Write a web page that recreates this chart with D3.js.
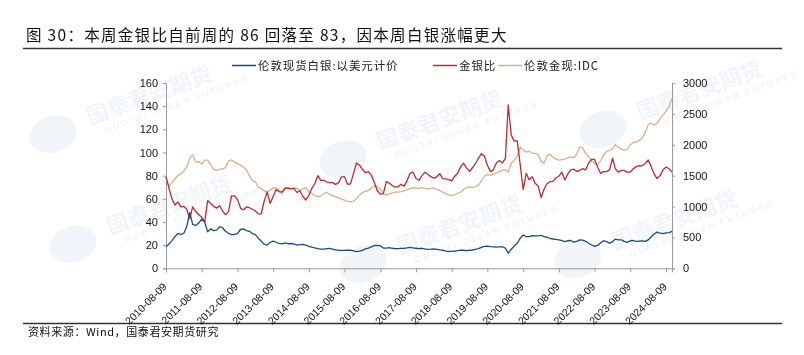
<!DOCTYPE html>
<html><head><meta charset="utf-8">
<script src="https://cdn.jsdelivr.net/npm/d3@7"></script>
<style>
html,body{margin:0;padding:0;background:#fff;}
svg{display:block;}
</style></head>
<body>
<svg id="chart" width="804" height="355"></svg>
<script>
// ---- data (monthly, starting 2010-08-09) ----
const startDate = "2010-08-09";
const silver = [
18.7,21,23.9,27.3,30,29.2,30.5,36,48,38,37,39,42.5,40,31.5,34,32.5,33,36,35,32,30.2,29,29.2,30,33.5,34,32.5,32,30,29,26,23.5,20.8,20,22.5,23.5,22.5,21.5,21,22,21.2,
21.4,21,20,20.4,20.7,20,19,18.2,17.6,17,16.6,16.6,17,17.2,16.6,16,15.6,15.4,15.5,15.6,15.7,15,14.4,14.8,15.5,16.8,17.5,18.5,19.8,19.7,19.5,17.5,17.5,17.8,17.3,16.9,17,17.2,17.3,17.6,18,17.6,17.3,17,
17.3,16.8,16.4,16.5,16.7,16.3,15.9,15.6,14.8,14.6,14.6,14.9,15.2,15.7,15.6,15.3,15.6,15.8,16.4,17,18,19,19.2,18.8,18.5,18.2,18.5,18.6,17.4,13,16.5,19,21.6,25.9,28.8,27.3,27.3,28.2,28,28,28.5,27.3,
26.8,25.9,25.3,25,24.6,23.8,23,23.8,24,22.6,23.3,24.5,24.4,23.3,21.6,20.1,18.9,19.7,21.8,23.8,23,21.8,23,25.2,24.5,24.5,23.2,22.4,23.8,24,23.2,23.4,23.6,23.2,24.5,27,29.6,31.2,30.4,30,30.5,30.8,31.8
];
const ratio = [
79,69,60,54.7,57.3,53,53.5,51,43,53,49,46.5,44,40,58.5,56,53.5,52,54,49.5,46.3,48.9,62.5,62.5,59.5,52,50.4,53,52.3,51,49.5,47,47,58,66,56,62,68,66,66,69.5,69,
68.5,69,65.5,67,62,59,63,69,73,80,76,76,74.5,74,74,72.5,74,79,79,72.5,73,82,91,89,85.5,82.5,83.5,80.5,74,67,64,64.5,74.8,73.6,71.5,70,70.5,72.5,71,75.5,82,83,77.5,76,
80,83,81,79,77.8,79,81.7,77.5,77.2,76.5,75.5,79.5,82,87.8,90.7,86.5,83.8,86.8,90.3,95,99,97,89,83.5,85,91,93,91,95,141,115,110,110,90,68,82,76.5,79,73.4,71,61,68,
73,74.8,75,78,79.5,83,76.3,81.5,85,85.6,83.5,84.5,86,85,90.7,94,94,87.5,82,83.5,83.5,85,95,86,83,84.5,84.5,83,83,86,87.8,88.7,88.5,90.5,93.5,88,81.5,77.5,80,85,87.5,86,83
];
const gold = [
1473,1320,1390,1446,1500,1525,1580,1640,1780,1840,1720,1728,1687,1750,1750,1680,1600,1585,1607,1607,1630,1740,1755,1720,1695,1670,1640,1590,1500,1420,1400,1312,1290,1250,1240,1260,1310,1295,1265,1210,1280,1310,
1290,1300,1300,1260,1290,1300,1240,1210,1180,1160,1170,1210,1232,1195,1175,1155,1140,1120,1105,1085,1075,1085,1130,1185,1225,1245,1260,1300,1335,1325,1280,1210,1185,1200,1220,1232,1232,1240,1255,1270,1290,1305,1300,1290,
1305,1295,1285,1295,1300,1280,1260,1235,1210,1190,1180,1190,1215,1235,1275,1310,1315,1310,1320,1345,1410,1490,1520,1505,1520,1545,1565,1585,1600,1560,1700,1745,1820,1960,1920,1880,1895,1860,1860,1840,1735,1700,
1820,1850,1800,1770,1750,1760,1768,1790,1800,1790,1850,1960,1950,1860,1810,1741,1700,1680,1740,1830,1890,1910,1935,2000,1960,1930,1910,1925,2000,2036,2045,2070,2110,2200,2330,2350,2320,2350,2420,2480,2540,2620,2750
];
const seriesNames = ["伦敦现货白银:以美元计价", "金银比", "伦敦金现:IDC"];
const seriesColors = ["#1a4b85", "#c0282d", "#d8b08a"];
const xTickLabels = ["2010-08-09","2011-08-09","2012-08-09","2013-08-09","2014-08-09","2015-08-09","2016-08-09","2017-08-09","2018-08-09","2019-08-09","2020-08-09","2021-08-09","2022-08-09","2023-08-09","2024-08-09"];
const leftTicks = [0,20,40,60,80,100,120,140,160];
const rightTicks = [0,500,1000,1500,2000,2500,3000];
const titleText = "图 30：本周金银比自前周的 86 回落至 83，因本周白银涨幅更大";
const sourceText = "资料来源：Wind，国泰君安期货研究";

// ---- layout ----
const svg = d3.select("#chart");
const L = 166, R = 672, T = 83, B = 268.3;
const parse = d3.timeParse("%Y-%m-%d");
const d0 = parse(startDate);
const dates = silver.map((_, i) => d3.timeMonth.offset(d0, i));

const x = d3.scaleTime().domain([d0, dates[dates.length - 1]]).range([L, R]);
const yL = d3.scaleLinear().domain([0, 160]).range([B, T]);
const yR = d3.scaleLinear().domain([0, 3000]).range([B, T]);

// ---- faint watermarks ----
const wm = svg.append("g").attr("opacity", 0.45);
const wmPos = [[90,125],[380,150],[640,120],[110,235],[400,255],[615,250]];
wmPos.forEach(([cx, cy]) => {
  const g = wm.append("g").attr("transform", `translate(${cx},${cy}) rotate(-20)`);
  g.append("ellipse").attr("cx", -38).attr("cy", -4).attr("rx", 24).attr("ry", 18).attr("fill", "#dfe8f2");
  g.append("text").attr("x", 0).attr("y", 0).attr("font-family", "Noto Sans CJK SC").attr("font-weight", "bold")
    .attr("font-size", 22).attr("fill", "#dfe8f2").text("国泰君安期货");
  g.append("text").attr("x", 12).attr("y", 13).attr("font-family", "Liberation Sans").attr("font-weight", "bold")
    .attr("font-size", 9).attr("letter-spacing", 2).attr("fill", "#dfe8f2").text("GUOTAI JUNAN FUTURES");
});

// ---- title and frame lines ----
svg.append("text").attr("x", 26).attr("y", 41).attr("font-family", "Noto Sans CJK SC")
  .attr("font-size", 15.5).attr("letter-spacing", 1.3).attr("fill", "#111").text(titleText);
svg.append("line").attr("x1", 23).attr("x2", 782).attr("y1", 48.5).attr("y2", 48.5)
  .attr("stroke", "#333").attr("stroke-width", 1.5);
svg.append("line").attr("x1", 23).attr("x2", 782).attr("y1", 323.5).attr("y2", 323.5)
  .attr("stroke", "#333").attr("stroke-width", 1.5);
svg.append("text").attr("x", 28).attr("y", 336).attr("font-family", "Noto Sans CJK SC")
  .attr("font-size", 11).attr("letter-spacing", 0.6).attr("fill", "#111").text(sourceText);

// ---- legend ----
const legendX = [232, 433, 498];
const lg = svg.append("g");
seriesNames.forEach((n, i) => {
  lg.append("line").attr("x1", legendX[i]).attr("x2", legendX[i] + 24).attr("y1", 65.5).attr("y2", 65.5)
    .attr("stroke", seriesColors[i]).attr("stroke-width", 1.5);
  lg.append("text").attr("x", legendX[i] + 26).attr("y", 69.5).attr("font-family", "Noto Sans CJK SC")
    .attr("font-size", 11.5).attr("letter-spacing", 0.9).attr("fill", "#222").text(n);
});

// ---- axes ----
const axisColor = "#9a9a9a";
const gl = svg.append("g").attr("transform", `translate(${L},0)`)
  .call(d3.axisLeft(yL).tickValues(leftTicks).tickSize(3).tickPadding(5));
const gr = svg.append("g").attr("transform", `translate(${R},0)`)
  .call(d3.axisRight(yR).tickValues(rightTicks).tickSize(3).tickPadding(8).tickFormat(d3.format("d")));
const tickDates = xTickLabels.map(parse);
const gb = svg.append("g").attr("transform", `translate(0,${B})`)
  .call(d3.axisBottom(x).tickValues(tickDates).tickSize(4).tickFormat((d, i) => xTickLabels[i]));
[gl, gr, gb].forEach(g => {
  g.select(".domain").attr("stroke", axisColor);
  g.selectAll(".tick line").attr("stroke", axisColor);
  g.selectAll("text").attr("font-family", "Liberation Sans, Arial").attr("font-size", 11).attr("fill", "#111");
});
gb.selectAll("text")
  .attr("text-anchor", "end")
  .attr("font-size", 10.5)
  .attr("x", 0).attr("y", 0).attr("dy", 0)
  .attr("transform", "translate(1,19) rotate(-45)");

// ---- series ----
const idx = d3.range(dates.length);
const lineL = (arr) => d3.line().x(i => x(dates[i])).y(i => yL(arr[i]));
const lineR = (arr) => d3.line().x(i => x(dates[i])).y(i => yR(arr[i]));
const plot = svg.append("g");
plot.append("path").datum(idx).attr("d", lineR(gold)).attr("fill", "none")
  .attr("stroke", seriesColors[2]).attr("stroke-width", 1.3).attr("stroke-linejoin", "round");
plot.append("path").datum(idx).attr("d", lineL(ratio)).attr("fill", "none")
  .attr("stroke", seriesColors[1]).attr("stroke-width", 1.3).attr("stroke-linejoin", "round");
plot.append("path").datum(idx).attr("d", lineL(silver)).attr("fill", "none")
  .attr("stroke", seriesColors[0]).attr("stroke-width", 1.3).attr("stroke-linejoin", "round");
</script>
</body></html>
